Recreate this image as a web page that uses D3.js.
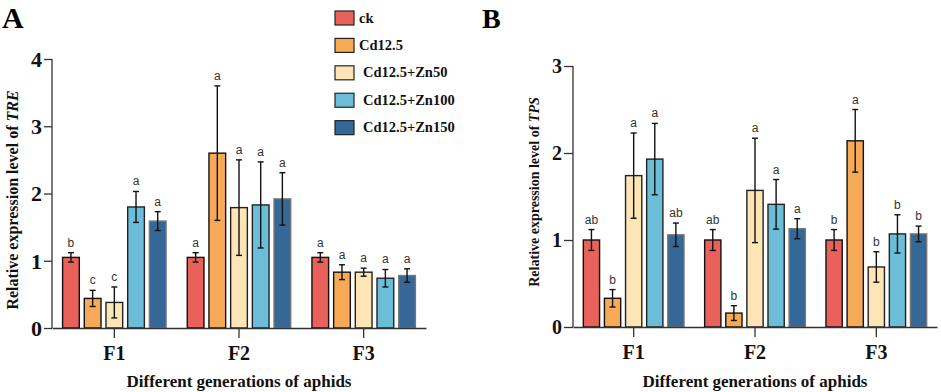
<!DOCTYPE html>
<html>
<head>
<meta charset="utf-8">
<script src="https://cdn.jsdelivr.net/npm/d3@7"></script>
<style>
  body { margin: 0; background: #fff; }
  svg { display: block; }
  .serif { font-family: "Liberation Serif", "Times New Roman", serif; font-weight: bold; }
  .sig { font-family: "Liberation Sans", Arial, sans-serif; font-size: 12px; fill: #333; }
</style>
</head>
<body>
<div id="chart"></div>
<script>
let generations = ["F1", "F2", "F3"]
let treatments = ["ck", "Cd12.5", "Cd12.5+Zn50", "Cd12.5+Zn100", "Cd12.5+Zn150"]
let colors = ["#e8615a", "#f6aa58", "#fee5b6", "#6cbdd7", "#356897"]
let strokes = ["#111", "#111", "#222", "#222", "#777"]

// TRE, rows = generation, cols = treatment
let treMean = [[1.05, 0.44, 0.38, 1.80, 1.59],
               [1.05, 2.60, 1.79, 1.83, 1.92],
               [1.05, 0.83, 0.83, 0.74, 0.78]]
let treErr = [[0.07, 0.12, 0.23, 0.23, 0.14],
              [0.07, 1.00, 0.71, 0.64, 0.39],
              [0.07, 0.11, 0.06, 0.13, 0.10]]
let treSig = [["b", "c", "c", "a", "a"],
              ["a", "a", "a", "a", "a"],
              ["a", "a", "a", "a", "a"]]

// TPS
let tpsMean = [[1.00, 0.33, 1.74, 1.93, 1.06],
               [1.00, 0.16, 1.57, 1.41, 1.13],
               [1.00, 2.14, 0.69, 1.07, 1.07]]
let tpsErr = [[0.12, 0.10, 0.49, 0.41, 0.135],
              [0.12, 0.085, 0.60, 0.285, 0.115],
              [0.12, 0.36, 0.175, 0.22, 0.09]]
let tpsSig = [["ab", "b", "a", "a", "ab"],
              ["ab", "b", "a", "a", "a"],
              ["b", "a", "b", "b", "b"]]

let svg = d3.select("#chart").append("svg")
    .attr("width", 941)
    .attr("height", 392)

function drawPanel(opt) {
    let g = svg.append("g")

    let x0 = d3.scaleBand().domain(generations).range([opt.left, opt.right])
        .paddingInner(0.17).paddingOuter(0.085)
    let x1 = d3.scaleBand().domain(treatments).range([0, x0.bandwidth()])
        .paddingInner(0.23).paddingOuter(0)
    let y = d3.scaleLinear().domain([0, opt.max]).range([opt.bottom, opt.top])

    let rows = []
    generations.forEach(function (gen, i) {
        treatments.forEach(function (t, j) {
            rows.push({gen: gen, t: t, j: j, mean: opt.mean[i][j], err: opt.err[i][j], sig: opt.sig[i][j]})
        })
    })

    // bars
    g.selectAll(".bar")
        .data(rows)
        .enter().append("rect")
        .attr("class", "bar")
        .attr("x", d => x0(d.gen) + x1(d.t))
        .attr("y", d => y(d.mean))
        .attr("width", x1.bandwidth())
        .attr("height", d => y(0) - y(d.mean))
        .attr("fill", d => colors[d.j])
        .attr("stroke", d => strokes[d.j])
        .attr("stroke-width", 1.4)

    // error bars
    let eb = g.selectAll(".err")
        .data(rows)
        .enter().append("g")
        .attr("class", "err")
        .attr("stroke", "#111")
        .attr("stroke-width", 1.4)
    let cx = d => x0(d.gen) + x1(d.t) + x1.bandwidth() / 2
    eb.append("line")
        .attr("x1", cx).attr("x2", cx)
        .attr("y1", d => y(d.mean + d.err))
        .attr("y2", d => y(d.mean - d.err))
    eb.append("line")
        .attr("x1", d => cx(d) - 3).attr("x2", d => cx(d) + 3)
        .attr("y1", d => y(d.mean + d.err)).attr("y2", d => y(d.mean + d.err))
    eb.append("line")
        .attr("x1", d => cx(d) - 3).attr("x2", d => cx(d) + 3)
        .attr("y1", d => y(d.mean - d.err)).attr("y2", d => y(d.mean - d.err))

    // significance letters
    g.selectAll(".sig")
        .data(rows)
        .enter().append("text")
        .attr("class", "sig")
        .attr("x", cx)
        .attr("y", d => y(d.mean + d.err) - 6)
        .attr("text-anchor", "middle")
        .text(d => d.sig)

    // axes
    let yAxis = g.append("g")
        .attr("transform", `translate(${opt.left},0)`)
        .call(d3.axisLeft(y).ticks(opt.max).tickFormat(d3.format("d")).tickSize(opt.tick).tickPadding(2))
    let xAxis = g.append("g")
        .attr("transform", `translate(0,${opt.bottom})`)
        .call(d3.axisBottom(x0).tickSize(10).tickPadding(8).tickSizeOuter(0))

    ;[yAxis, xAxis].forEach(function (a) {
        a.select(".domain").attr("stroke", "#333").attr("stroke-width", 1.3)
        a.selectAll(".tick line").attr("stroke", "#333").attr("stroke-width", 1.3)
        a.selectAll("text").attr("class", "serif").attr("fill", "#111")
    })
    yAxis.selectAll("text").style("font-size", opt.tickFont + "px").attr("dy", "0.34em")
    xAxis.selectAll("text").style("font-size", "20px").attr("dy", "0.72em")
    // y axis domain without outer tick
    yAxis.select(".domain").attr("d", `M0,${opt.bottom}V${opt.top}`)

    // axis titles
    let yt = g.append("text")
        .attr("class", "serif")
        .attr("transform", `translate(${opt.ytX},${opt.ytY}) rotate(-90)`)
        .attr("text-anchor", "middle")
        .style("font-size", opt.ytFont + "px")
        .attr("fill", "#111")
    yt.append("tspan").text("Relative expression level of ")
    yt.append("tspan").attr("font-style", "italic").text(opt.gene)

    g.append("text")
        .attr("class", "serif")
        .attr("x", (opt.left + opt.right) / 2)
        .attr("y", 387)
        .attr("text-anchor", "middle")
        .style("font-size", opt.xtFont + "px")
        .attr("fill", "#111")
        .text("Different generations of aphids")

    g.append("text")
        .attr("class", "serif")
        .attr("x", opt.labX)
        .attr("y", 28)
        .style("font-size", opt.labFont + "px")
        .attr("fill", "#000")
        .text(opt.label)
}

drawPanel({left: 52, right: 426, top: 59, bottom: 328, max: 4, mean: treMean, err: treErr, sig: treSig,
    tick: 8, tickFont: 22, gene: "TRE", ytX: 18, ytY: 200, ytFont: 16, xtFont: 17, label: "A", labX: 2, labFont: 30})
drawPanel({left: 573, right: 937, top: 66, bottom: 327, max: 3, mean: tpsMean, err: tpsErr, sig: tpsSig,
    tick: 9, tickFont: 20, gene: "TPS", ytX: 539, ytY: 192, ytFont: 14, xtFont: 17, label: "B", labX: 482, labFont: 28})

// legend
let legend = svg.append("g")
let ly = d3.scaleBand().domain(treatments).range([11, 136]).paddingInner(0.44)
let lx = [359, 359, 363, 363, 363]
treatments.forEach(function (t, j) {
    legend.append("rect")
        .attr("x", 335).attr("y", ly(t))
        .attr("width", 19).attr("height", 14)
        .attr("fill", colors[j])
        .attr("stroke", "#222").attr("stroke-width", 1.2)
    legend.append("text")
        .attr("class", "serif")
        .attr("x", lx[j]).attr("y", ly(t) + 11.5)
        .style("font-size", "14.5px")
        .attr("fill", "#111")
        .text(t)
})
</script>
</body>
</html>
